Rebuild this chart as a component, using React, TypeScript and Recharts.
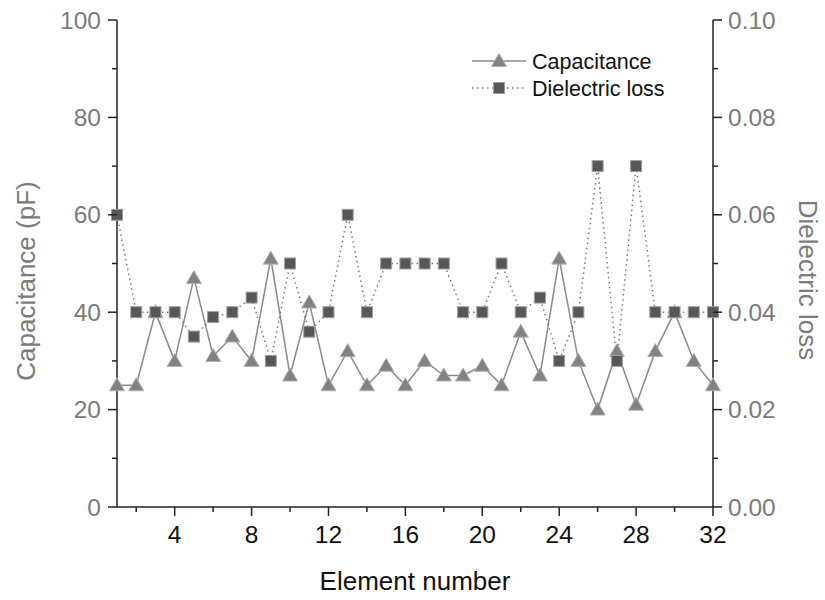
import { LineChart, Line, XAxis, YAxis } from "recharts";

const elements = [1, 2, 3, 4, 5, 6, 7, 8, 9, 10, 11, 12, 13, 14, 15, 16, 17, 18, 19, 20, 21, 22, 23, 24, 25, 26, 27, 28, 29, 30, 31, 32];
const capacitance = [25, 25, 40, 30, 47, 31, 35, 30, 51, 27, 42, 25, 32, 25, 29, 25, 30, 27, 27, 29, 25, 36, 27, 51, 30, 20, 32, 21, 32, 40, 30, 25];
const dielectricLoss = [0.06, 0.04, 0.04, 0.04, 0.035, 0.039, 0.04, 0.043, 0.03, 0.05, 0.036, 0.04, 0.06, 0.04, 0.05, 0.05, 0.05, 0.05, 0.04, 0.04, 0.05, 0.04, 0.043, 0.03, 0.04, 0.07, 0.03, 0.07, 0.04, 0.04, 0.04, 0.04];

const xTicks = [2, 4, 6, 8, 10, 12, 14, 16, 18, 20, 22, 24, 26, 28, 30, 32];
const leftTicks = [0, 10, 20, 30, 40, 50, 60, 70, 80, 90, 100];
const rightTicks = [0, 0.01, 0.02, 0.03, 0.04, 0.05, 0.06, 0.07, 0.08, 0.09, 0.1];

const data = elements.map((n, i) => ({ n, cap: capacitance[i], loss: dielectricLoss[i] }));

const FONT = "'Liberation Sans', Arial, sans-serif";
const GRAY_TEXT = "#7b7b7b";
const AXIS = "#222";
const TICK_FS = 24.5;

const Triangle = ({ cx, cy }: any) => {
  if (cx == null || cy == null) return null;
  return (
    <polygon
      points={`${cx},${cy - 7.5} ${cx - 7.5},${cy + 5.5} ${cx + 7.5},${cy + 5.5}`}
      fill="#828282"
      stroke="#b0b0b0"
      strokeWidth={1}
    />
  );
};

const Square = ({ cx, cy }: any) => {
  if (cx == null || cy == null) return null;
  return <rect x={cx - 5.5} y={cy - 5.5} width={11} height={11} fill="#575757" stroke="#a0a0a0" strokeWidth={1} />;
};

const BottomTick = ({ x, y, payload }: any) => {
  const major = payload.value % 4 === 0;
  return (
    <g>
      <line x1={x} y1={y} x2={x} y2={y + (major ? 9 : 5)} stroke={AXIS} strokeWidth={1.5} />
      {major && (
        <text x={x} y={y + 36} textAnchor="middle" fontSize={TICK_FS} fontFamily={FONT} fill="#111">
          {payload.value}
        </text>
      )}
    </g>
  );
};

const LeftTick = ({ x, y, payload }: any) => {
  const major = payload.value % 20 === 0;
  return (
    <g>
      <line x1={x} y1={y} x2={x - (major ? 9 : 5)} y2={y} stroke={AXIS} strokeWidth={1.5} />
      {major && (
        <text x={x - 16} y={y + 8.5} textAnchor="end" fontSize={TICK_FS} fontFamily={FONT} fill={GRAY_TEXT}>
          {payload.value}
        </text>
      )}
    </g>
  );
};

const RightTick = ({ x, y, payload }: any) => {
  const major = Math.round(payload.value * 100) % 2 === 0;
  return (
    <g>
      <line x1={x} y1={y} x2={x + (major ? 9 : 5)} y2={y} stroke={AXIS} strokeWidth={1.5} />
      {major && (
        <text x={x + 15} y={y + 8.5} textAnchor="start" fontSize={TICK_FS} fontFamily={FONT} fill={GRAY_TEXT}>
          {payload.value.toFixed(2)}
        </text>
      )}
    </g>
  );
};

const LegendBox = () => (
  <svg width={230} height={60} style={{ position: "absolute", left: 468, top: 45 }}>
    <line x1={4} y1={16} x2={58} y2={16} stroke="#8a8a8a" strokeWidth={1.5} />
    <Triangle cx={31} cy={16} />
    <text x={64} y={23.5} fontSize={21.5} fontFamily={FONT} fill="#111">Capacitance</text>
    <line x1={4} y1={43} x2={58} y2={43} stroke="#777" strokeWidth={1.5} strokeDasharray="1.5 3.5" />
    <Square cx={31} cy={43} />
    <text x={64} y={50.5} fontSize={21.5} fontFamily={FONT} fill="#111">Dielectric loss</text>
  </svg>
);

export default function App() {
  return (
    <div style={{ position: "fixed", left: 0, top: 0, width: 825, height: 600, background: "#fff" }}>
      <LineChart width={825} height={600} data={data} margin={{ top: 20, right: 0, bottom: 0, left: 0 }}>
        <XAxis
          xAxisId="bottom"
          dataKey="n"
          type="number"
          domain={[1, 32]}
          ticks={xTicks}
          height={93}
          tickSize={0}
          tickMargin={0}
          tickLine={false}
          axisLine={{ stroke: AXIS, strokeWidth: 1.5 }}
          tick={<BottomTick />}
          interval={0}
          label={{ value: "Element number", position: "insideBottom", offset: 10, fontSize: 26, fontFamily: FONT, fill: "#111" }}
        />
        <XAxis
          xAxisId="top"
          dataKey="n"
          type="number"
          domain={[1, 32]}
          orientation="top"
          height={0}
          tick={false}
          tickLine={false}
          axisLine={{ stroke: AXIS, strokeWidth: 1.5 }}
        />
        <YAxis
          yAxisId="left"
          domain={[0, 100]}
          ticks={leftTicks}
          width={117}
          tickSize={0}
          tickMargin={0}
          tickLine={false}
          interval={0}
          axisLine={{ stroke: AXIS, strokeWidth: 1.5 }}
          tick={<LeftTick />}
          label={() => (
            <text
              x={26}
              y={281}
              transform={`rotate(-90 26 281)`}
              textAnchor="middle"
              dominantBaseline="central"
              fontSize={26}
              fontFamily={FONT}
              fill={GRAY_TEXT}
            >
              Capacitance (pF)
            </text>
          )}
        />
        <YAxis
          yAxisId="right"
          orientation="right"
          domain={[0, 0.1]}
          ticks={rightTicks}
          width={112}
          tickSize={0}
          tickMargin={0}
          tickLine={false}
          interval={0}
          axisLine={{ stroke: AXIS, strokeWidth: 1.5 }}
          tick={<RightTick />}
          label={() => (
            <text
              x={808}
              y={280}
              transform={`rotate(90 808 280)`}
              textAnchor="middle"
              dominantBaseline="central"
              fontSize={26}
              fontFamily={FONT}
              fill={GRAY_TEXT}
            >
              Dielectric loss
            </text>
          )}
        />
        <Line
          xAxisId="bottom"
          yAxisId="left"
          dataKey="cap"
          name="Capacitance"
          stroke="#8a8a8a"
          strokeWidth={1.5}
          dot={<Triangle />}
          activeDot={false}
          isAnimationActive={false}
        />
        <Line
          xAxisId="bottom"
          yAxisId="right"
          dataKey="loss"
          name="Dielectric loss"
          stroke="#777"
          strokeWidth={1.5}
          strokeDasharray="1.5 3.5"
          dot={<Square />}
          activeDot={false}
          isAnimationActive={false}
        />
      </LineChart>
      <LegendBox />
    </div>
  );
}
